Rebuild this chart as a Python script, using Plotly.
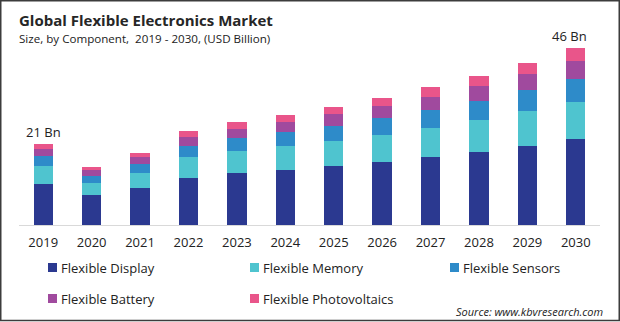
import plotly.graph_objects as go

# Market size by component, USD billion
years = ["2019", "2020", "2021", "2022", "2023", "2024",
         "2025", "2026", "2027", "2028", "2029", "2030"]
flexible_display = [10.63, 7.78, 9.59, 12.19, 13.57, 14.26, 15.30, 16.33, 17.63, 18.93, 20.48, 22.30]
flexible_memory = [4.67, 3.19, 3.97, 5.53, 5.70, 6.22, 6.48, 7.00, 7.60, 8.30, 9.07, 9.59]
flexible_sensors = [2.67, 1.81, 2.33, 2.77, 3.37, 3.71, 3.89, 4.49, 4.59, 4.93, 5.44, 5.96]
flexible_battery = [1.74, 1.47, 1.81, 2.42, 2.25, 2.44, 3.11, 3.03, 3.37, 3.89, 4.15, 4.67]
flexible_photovoltaics = [1.30, 0.78, 0.95, 1.56, 1.81, 1.97, 1.90, 2.07, 2.59, 2.59, 2.85, 3.45]

series_names = ["Flexible Display", "Flexible Memory", "Flexible Sensors",
                "Flexible Battery", "Flexible Photovoltaics"]
series_values = [flexible_display, flexible_memory, flexible_sensors,
                 flexible_battery, flexible_photovoltaics]
series_colors = ["#2B3990", "#4FC4CF", "#2E8BC9", "#A04A9E", "#E9558A"]

labelled_years = ["2019", "2030"]

W, H = 620, 322
L, R, T, B = 19, 20, 40, 97
PW, PH = W - L - R, H - T - B
FONT = "Open Sans"
TEXT = "#222222"


def px_x(px):
    return (px - L) / PW


def px_y(py):
    return (H - B - py) / PH


fig = go.Figure()
for name, vals, color in zip(series_names, series_values, series_colors):
    fig.add_trace(go.Bar(x=years, y=vals, name=name, marker=dict(color=color, line=dict(width=0)),
                         showlegend=False))

annotations = []
shapes = []

# Totals above selected bars (category index used for x)
totals = [sum(v) for v in zip(*series_values)]
for yr in labelled_years:
    i = years.index(yr)
    annotations.append(dict(x=i, y=totals[i], xref="x", yref="y", text=f"{round(totals[i])} Bn",
                            showarrow=False, yanchor="middle", yshift=12,
                            xshift=-6 if i == len(years) - 1 else 0,
                            font=dict(family=FONT, size=13, color=TEXT)))

# Title and subtitle
annotations.append(dict(x=px_x(17), y=px_y(20), xref="paper", yref="paper", xanchor="left",
                        yanchor="middle", showarrow=False,
                        text="<b>Global Flexible Electronics Market</b>",
                        font=dict(family=FONT, size=15, color="#262626")))
annotations.append(dict(x=px_x(17), y=px_y(38.5), xref="paper", yref="paper", xanchor="left",
                        yanchor="middle", showarrow=False,
                        text="Size, by Component,  2019 - 2030, (USD Billion)",
                        font=dict(family=FONT, size=11.6, color=TEXT)))

# Legend laid out in three columns
legend_cols = [48, 250, 450]
legend_rows = [267.5, 298.5]
for k, (name, color) in enumerate(zip(series_names, series_colors)):
    cx = legend_cols[k % 3]
    cy = legend_rows[k // 3]
    shapes.append(dict(type="rect", xref="paper", yref="paper",
                       x0=px_x(cx), x1=px_x(cx + 9), y0=px_y(cy + 4.5), y1=px_y(cy - 4.5),
                       fillcolor=color, line=dict(width=0)))
    annotations.append(dict(x=px_x(cx + 11), y=px_y(cy), xref="paper", yref="paper",
                            xanchor="left", yanchor="middle", showarrow=False, text=name,
                            font=dict(family=FONT, size=13, color=TEXT)))

# Source note
annotations.append(dict(x=px_x(605), y=px_y(311), xref="paper", yref="paper", xanchor="right",
                        yanchor="middle", showarrow=False,
                        text="<i>Source: www.kbvresearch.com</i>",
                        font=dict(family=FONT, size=11, color=TEXT)))

# Outer frame
shapes.append(dict(type="rect", xref="paper", yref="paper",
                   x0=px_x(0.75), x1=px_x(619.25), y0=px_y(320.5), y1=px_y(0.75),
                   line=dict(color="#3c3c3c", width=1.5), fillcolor="rgba(0,0,0,0)", layer="above"))

fig.update_layout(
    width=W, height=H, barmode="stack", bargap=0.6,
    margin=dict(l=L, r=R, t=T, b=B, pad=0, autoexpand=False),
    paper_bgcolor="white", plot_bgcolor="white",
    annotations=annotations, shapes=shapes,
    xaxis=dict(type="category", range=[-0.5, len(years) - 0.5], autorange=False,
               showline=True, linecolor="#d9d9d9", linewidth=1,
               ticks="outside", ticklen=5, tickcolor="rgba(0,0,0,0)",
               tickfont=dict(family=FONT, size=13, color=TEXT), showgrid=False, fixedrange=True),
    yaxis=dict(range=[0, 48], autorange=False, visible=False, showgrid=False, fixedrange=True),
    font=dict(family=FONT),
)

fig.write_html("out.html", config={"displayModeBar": False})
